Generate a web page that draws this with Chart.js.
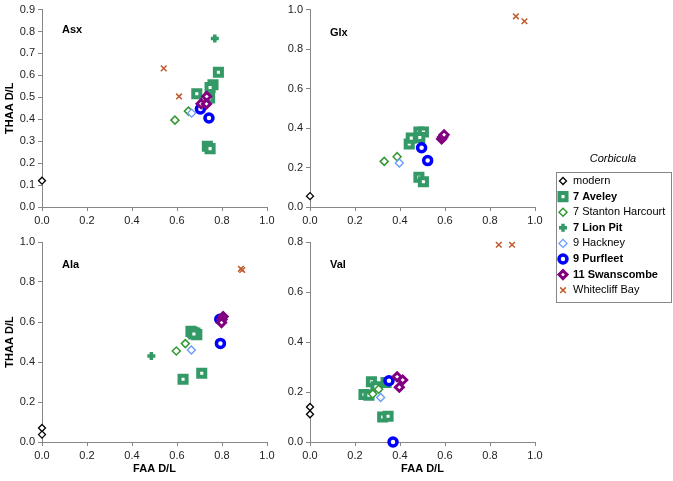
<!DOCTYPE html>
<html>
<head>
<meta charset="utf-8">
<script src="https://cdn.jsdelivr.net/npm/chart.js@4/dist/chart.umd.min.js"></script>
<style>
  body { margin: 0; background: #fff; }
  #wrap { position: relative; width: 673px; height: 481px; }
  canvas { position: absolute; }
</style>
</head>
<body>
<div id="wrap">
  <canvas id="asx" width="280" height="228" style="left:0;top:0"></canvas>
  <canvas id="glx" width="280" height="228" style="left:270px;top:0"></canvas>
  <canvas id="ala" width="280" height="256" style="left:0;top:225px"></canvas>
  <canvas id="val" width="280" height="256" style="left:270px;top:225px"></canvas>
  <canvas id="legend" width="133" height="170" style="left:540px;top:140px"></canvas>
</div>
<script>
// series names, in legend order
const seriesNames = ['modern', '7 Aveley', '7 Stanton Harcourt', '7 Lion Pit', '9 Hackney', '9 Purfleet', '11 Swanscombe', 'Whitecliff Bay'];
const boldNames = ['7 Aveley', '7 Lion Pit', '9 Purfleet', '11 Swanscombe'];

// x ticks shared by all panels
const xTicks = [0, 0.2, 0.4, 0.6, 0.8, 1.0];

// Asx  [FAA D/L, THAA D/L]
const asxModern = [[0, 0.12]];
const asxAveley = [[0.784, 0.614], [0.688, 0.516], [0.760, 0.557], [0.747, 0.545], [0.745, 0.497], [0.735, 0.277], [0.747, 0.266]];
const asxStanton = [[0.591, 0.396], [0.651, 0.437]];
const asxLionPit = [[0.768, 0.768]];
const asxHackney = [[0.665, 0.428]];
const asxPurfleet = [[0.704, 0.447], [0.742, 0.406]];
const asxSwanscombe = [[0.732, 0.504], [0.707, 0.471], [0.731, 0.470]];
const asxWhitecliff = [[0.541, 0.632], [0.609, 0.504]];

// Glx
const glxModern = [[0, 0.055]];
const glxAveley = [[0.441, 0.319], [0.450, 0.349], [0.484, 0.380], [0.504, 0.380], [0.488, 0.352], [0.484, 0.151], [0.504, 0.128]];
const glxStanton = [[0.330, 0.231], [0.387, 0.255]];
const glxLionPit = [];
const glxHackney = [[0.397, 0.223]];
const glxPurfleet = [[0.496, 0.300], [0.523, 0.235]];
const glxSwanscombe = [[0.585, 0.345], [0.590, 0.355], [0.596, 0.366]];
const glxWhitecliff = [[0.915, 0.966], [0.953, 0.941]];

// Ala
const alaModern = [[0, 0.070], [0, 0.037]];
const alaAveley = [[0.627, 0.314], [0.710, 0.344], [0.662, 0.553], [0.670, 0.548], [0.680, 0.545], [0.688, 0.537], [0.675, 0.540]];
const alaStanton = [[0.597, 0.455], [0.637, 0.492]];
const alaLionPit = [[0.486, 0.430]];
const alaHackney = [[0.664, 0.460]];
const alaPurfleet = [[0.790, 0.614], [0.793, 0.493]];
const alaSwanscombe = [[0.805, 0.627], [0.800, 0.612], [0.798, 0.597]];
const alaWhitecliff = [[0.884, 0.866], [0.890, 0.860]];

// Val
const valModern = [[0, 0.140], [0, 0.111]];
const valAveley = [[0.240, 0.190], [0.262, 0.187], [0.273, 0.241], [0.293, 0.221], [0.338, 0.238], [0.323, 0.100], [0.347, 0.103]];
const valStanton = [[0.279, 0.192], [0.305, 0.211]];
const valLionPit = [];
const valHackney = [[0.314, 0.178]];
const valPurfleet = [[0.351, 0.245], [0.369, 0.0]];
const valSwanscombe = [[0.387, 0.261], [0.412, 0.248], [0.397, 0.219]];
const valWhitecliff = [[0.839, 0.789], [0.898, 0.789]];

// marker styles, one per series
const markers = [
  { pointStyle: 'rectRot', radius: 3.5, borderWidth: 1.3, color: '#000000', fill: '#ffffff' },
  { pointStyle: 'rect', radius: 5, borderWidth: 4, color: '#339966', fill: '#ffffff' },
  { pointStyle: 'rectRot', radius: 4, borderWidth: 1.5, color: '#339933', fill: '#ffffff' },
  { pointStyle: 'cross', radius: 4, borderWidth: 3.5, color: '#339966', fill: '#339966' },
  { pointStyle: 'rectRot', radius: 4, borderWidth: 1.3, color: '#6699ff', fill: '#ffffff' },
  { pointStyle: 'circle', radius: 4, borderWidth: 3.5, color: '#0000ff', fill: '#ffffff' },
  { pointStyle: 'rectRot', radius: 4, borderWidth: 3, color: '#800080', fill: '#ffffff' },
  { pointStyle: 'crossRot', radius: 4, borderWidth: 1.5, color: '#bf5a2a', fill: '#bf5a2a' }
];

const axisColor = '#868686';
const fontFamily = '"Liberation Sans", Arial, sans-serif';

const panelLabel = {
  id: 'panelLabel',
  afterDraw(chart, args, opts) {
    const ctx = chart.ctx;
    ctx.save();
    ctx.font = 'bold 11px ' + fontFamily;
    ctx.fillStyle = '#000';
    ctx.textBaseline = 'middle';
    ctx.fillText(opts.text, chart.chartArea.left + 20, chart.chartArea.top + opts.dy);
    ctx.restore();
  }
};

function makePanel(id, label, series, yMax, yStep, opts) {
  const datasets = series.map((pts, i) => ({
    label: seriesNames[i],
    data: pts.map(p => ({ x: p[0], y: p[1] })),
    pointStyle: markers[i].pointStyle,
    pointRadius: markers[i].radius,
    pointHoverRadius: markers[i].radius,
    pointBorderWidth: markers[i].borderWidth,
    pointBorderColor: markers[i].color,
    pointBackgroundColor: markers[i].fill,
    showLine: false,
    clip: false,
    order: seriesNames.length - i
  }));
  new Chart(document.getElementById(id), {
    type: 'scatter',
    data: { datasets },
    plugins: [panelLabel],
    options: {
      responsive: false,
      animation: false,
      layout: { padding: { top: opts.top, right: opts.right, left: 0, bottom: 0 } },
      plugins: {
        legend: { display: false },
        tooltip: { enabled: false },
        panelLabel: { text: label, dy: opts.labelDy }
      },
      scales: {
        x: {
          min: 0, max: 1,
          afterBuildTicks: s => { s.ticks = xTicks.map(v => ({ value: v })); },
          afterFit: s => { s.height = opts.xHeight; },
          border: { display: true, color: axisColor },
          grid: { display: true, drawOnChartArea: false, tickLength: 4, color: axisColor },
          ticks: { padding: 3, color: '#222', font: { family: fontFamily, size: 11 }, callback: v => v.toFixed(1) },
          title: {
            display: opts.xTitle, text: 'FAA D/L', color: '#000',
            font: { family: fontFamily, size: 11, weight: 'bold' }, padding: { top: 0, bottom: 5 }
          }
        },
        y: {
          min: 0, max: yMax,
          ticks: { stepSize: yStep, padding: 3, color: '#222', font: { family: fontFamily, size: 11 }, callback: v => v.toFixed(1) },
          afterFit: s => { s.width = opts.yWidth; },
          border: { display: true, color: axisColor },
          grid: { display: true, drawOnChartArea: false, tickLength: 4, color: axisColor },
          title: {
            display: opts.yTitle, text: 'THAA D/L', color: '#000',
            font: { family: fontFamily, size: 11, weight: 'bold' }, padding: { top: 3, bottom: 0 }
          }
        }
      }
    }
  });
}

makePanel('asx', 'Asx', [asxModern, asxAveley, asxStanton, asxLionPit, asxHackney, asxPurfleet, asxSwanscombe, asxWhitecliff], 0.9, 0.1,
  { top: 7, right: 13, xHeight: 21, yWidth: 42, xTitle: false, yTitle: true, labelDy: 20 });
makePanel('glx', 'Glx', [glxModern, glxAveley, glxStanton, glxLionPit, glxHackney, glxPurfleet, glxSwanscombe, glxWhitecliff], 1.0, 0.2,
  { top: 7, right: 15, xHeight: 21, yWidth: 40, xTitle: false, yTitle: false, labelDy: 23 });
makePanel('ala', 'Ala', [alaModern, alaAveley, alaStanton, alaLionPit, alaHackney, alaPurfleet, alaSwanscombe, alaWhitecliff], 1.0, 0.2,
  { top: 17, right: 13, xHeight: 39, yWidth: 42, xTitle: true, yTitle: true, labelDy: 23 });
makePanel('val', 'Val', [valModern, valAveley, valStanton, valLionPit, valHackney, valPurfleet, valSwanscombe, valWhitecliff], 0.8, 0.2,
  { top: 17, right: 15, xHeight: 39, yWidth: 40, xTitle: true, yTitle: false, labelDy: 23 });

// shared legend, drawn with Chart.js point helper
(function drawLegend() {
  const ctx = document.getElementById('legend').getContext('2d');
  ctx.font = 'italic 11px ' + fontFamily;
  ctx.fillStyle = '#000';
  ctx.textAlign = 'center';
  ctx.textBaseline = 'middle';
  ctx.fillText('Corbicula', 73, 19);
  ctx.strokeStyle = axisColor;
  ctx.lineWidth = 1;
  ctx.strokeRect(16.5, 32.5, 115, 130);
  ctx.textAlign = 'left';
  seriesNames.forEach((name, i) => {
    const y = 41 + i * 15.6;
    const m = markers[i];
    ctx.save();
    ctx.strokeStyle = m.color;
    ctx.fillStyle = m.fill;
    ctx.lineWidth = m.borderWidth;
    Chart.helpers.drawPoint(ctx, { pointStyle: m.pointStyle, radius: m.radius, borderWidth: m.borderWidth, rotation: 0 }, 23, y);
    ctx.restore();
    ctx.fillStyle = '#000';
    ctx.font = (boldNames.includes(name) ? 'bold ' : '') + '11px ' + fontFamily;
    ctx.fillText(name, 33, y);
  });
})();
</script>
</body>
</html>
